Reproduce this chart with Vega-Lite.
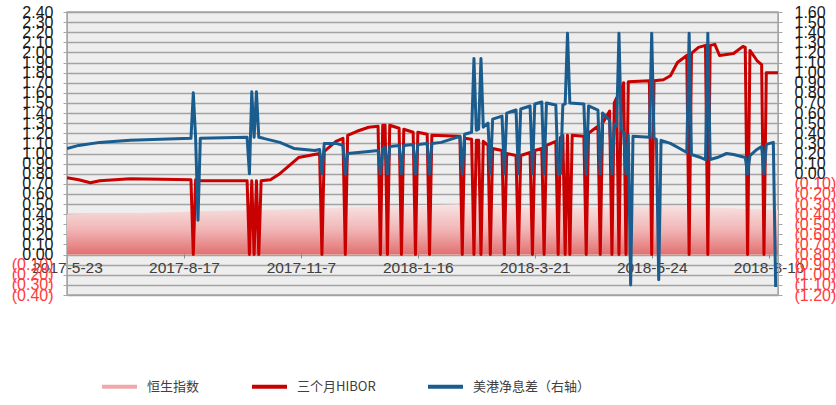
{
  "$schema": "https://vega.github.io/schema/vega-lite/v6.json",
  "width": 711,
  "height": 283,
  "autosize": {"type": "none"},
  "padding": {"left": 67, "top": 12, "right": 58, "bottom": 110},
  "background": "white",
  "config": {
    "view": {"fill": "#eeeeee", "stroke": "#a6a6a6", "strokeWidth": 1.5},
    "font": "Liberation Sans"
  },
  "datasets": {
    "hsi": [
      {"day": 0, "value": 0.40}, {"day": 30, "value": 0.41}, {"day": 60, "value": 0.43},
      {"day": 100, "value": 0.45}, {"day": 150, "value": 0.49}, {"day": 175, "value": 0.50},
      {"day": 200, "value": 0.46}, {"day": 230, "value": 0.47}, {"day": 260, "value": 0.48},
      {"day": 304, "value": 0.44}
    ],
    "hibor": [
      {"day": 0, "value": 0.76}, {"day": 5, "value": 0.74}, {"day": 10, "value": 0.71}, {"day": 14, "value": 0.73},
      {"day": 27, "value": 0.75}, {"day": 53, "value": 0.74}, {"day": 54, "value": 0}, {"day": 55, "value": 0.74},
      {"day": 56, "value": 0.73}, {"day": 77, "value": 0.73}, {"day": 78, "value": 0}, {"day": 79, "value": 0.73},
      {"day": 80, "value": 0}, {"day": 81, "value": 0.73}, {"day": 82, "value": 0}, {"day": 83, "value": 0.73},
      {"day": 87, "value": 0.74}, {"day": 91, "value": 0.80}, {"day": 95, "value": 0.88}, {"day": 99, "value": 0.96},
      {"day": 108, "value": 1.00}, {"day": 109, "value": 0}, {"day": 110, "value": 1.02}, {"day": 115, "value": 1.12},
      {"day": 118, "value": 1.15}, {"day": 119, "value": 0}, {"day": 120, "value": 1.18}, {"day": 124, "value": 1.22},
      {"day": 129, "value": 1.26}, {"day": 133, "value": 1.27}, {"day": 134, "value": 0}, {"day": 135, "value": 1.28},
      {"day": 136, "value": 1.28}, {"day": 137, "value": 0}, {"day": 138, "value": 1.28}, {"day": 142, "value": 1.25},
      {"day": 143, "value": 0}, {"day": 144, "value": 1.24}, {"day": 148, "value": 1.21}, {"day": 149, "value": 0},
      {"day": 150, "value": 1.21}, {"day": 154, "value": 1.19}, {"day": 155, "value": 0}, {"day": 156, "value": 1.18},
      {"day": 168, "value": 1.17}, {"day": 169, "value": 0}, {"day": 170, "value": 1.15}, {"day": 173, "value": 1.14},
      {"day": 174, "value": 0}, {"day": 175, "value": 1.13}, {"day": 176, "value": 1.13}, {"day": 177, "value": 0},
      {"day": 178, "value": 1.12}, {"day": 180, "value": 1.08}, {"day": 181, "value": 0}, {"day": 182, "value": 1.05},
      {"day": 186, "value": 1.03}, {"day": 187, "value": 0}, {"day": 188, "value": 1.00}, {"day": 192, "value": 0.98},
      {"day": 193, "value": 0}, {"day": 194, "value": 0.98}, {"day": 198, "value": 1.01}, {"day": 199, "value": 0},
      {"day": 200, "value": 1.03}, {"day": 203, "value": 1.05}, {"day": 204, "value": 0}, {"day": 205, "value": 1.08},
      {"day": 209, "value": 1.12}, {"day": 210, "value": 0}, {"day": 211, "value": 1.16}, {"day": 212, "value": 1.18},
      {"day": 213, "value": 0}, {"day": 214, "value": 1.18}, {"day": 215, "value": 0}, {"day": 216, "value": 1.18},
      {"day": 221, "value": 1.17}, {"day": 222, "value": 0}, {"day": 223, "value": 1.20}, {"day": 227, "value": 1.27},
      {"day": 228, "value": 0}, {"day": 229, "value": 1.30}, {"day": 232, "value": 1.42}, {"day": 233, "value": 0},
      {"day": 234, "value": 1.50}, {"day": 235, "value": 1.55}, {"day": 236, "value": 0}, {"day": 237, "value": 1.62},
      {"day": 238, "value": 1.70}, {"day": 239, "value": 0}, {"day": 240, "value": 1.71}, {"day": 249, "value": 1.72},
      {"day": 250, "value": 0}, {"day": 251, "value": 1.72}, {"day": 255, "value": 1.73}, {"day": 258, "value": 1.77},
      {"day": 261, "value": 1.90}, {"day": 265, "value": 1.97}, {"day": 266, "value": 0}, {"day": 267, "value": 1.99},
      {"day": 270, "value": 2.05}, {"day": 273, "value": 2.07}, {"day": 274, "value": 0}, {"day": 275, "value": 2.07},
      {"day": 277, "value": 2.08}, {"day": 279, "value": 1.97}, {"day": 285, "value": 1.99}, {"day": 289, "value": 2.06},
      {"day": 290, "value": 2.05}, {"day": 291, "value": 0}, {"day": 292, "value": 2.02}, {"day": 295, "value": 1.92},
      {"day": 297, "value": 1.88}, {"day": 298, "value": 0}, {"day": 299, "value": 1.80}, {"day": 304, "value": 1.80}
    ],
    "spread": [
      {"day": 0, "value": 0.25}, {"day": 5, "value": 0.28}, {"day": 14, "value": 0.31}, {"day": 27, "value": 0.33},
      {"day": 53, "value": 0.35}, {"day": 54, "value": 0.80}, {"day": 55, "value": 0.35}, {"day": 56, "value": -0.46},
      {"day": 57, "value": 0.35}, {"day": 77, "value": 0.36}, {"day": 78, "value": 0}, {"day": 79, "value": 0.81},
      {"day": 80, "value": 0.36}, {"day": 81, "value": 0.81}, {"day": 82, "value": 0.36}, {"day": 84, "value": 0.35},
      {"day": 91, "value": 0.31}, {"day": 97, "value": 0.25}, {"day": 106, "value": 0.23}, {"day": 108, "value": 0.24},
      {"day": 109, "value": 0}, {"day": 110, "value": 0.30}, {"day": 115, "value": 0.30}, {"day": 118, "value": 0.28},
      {"day": 119, "value": 0}, {"day": 120, "value": 0.20}, {"day": 129, "value": 0.22}, {"day": 133, "value": 0.23},
      {"day": 134, "value": 0}, {"day": 135, "value": 0.25}, {"day": 136, "value": 0.26}, {"day": 137, "value": 0},
      {"day": 138, "value": 0.27}, {"day": 142, "value": 0.28}, {"day": 143, "value": 0}, {"day": 144, "value": 0.28},
      {"day": 148, "value": 0.29}, {"day": 149, "value": 0}, {"day": 150, "value": 0.29}, {"day": 154, "value": 0.30},
      {"day": 155, "value": 0}, {"day": 156, "value": 0.30}, {"day": 160, "value": 0.31}, {"day": 168, "value": 0.37},
      {"day": 169, "value": 0}, {"day": 170, "value": 0.39}, {"day": 173, "value": 0.41}, {"day": 174, "value": 1.14},
      {"day": 175, "value": 0.43}, {"day": 176, "value": 0.44}, {"day": 177, "value": 1.14}, {"day": 178, "value": 0.46},
      {"day": 180, "value": 0.50}, {"day": 181, "value": 0}, {"day": 182, "value": 0.54}, {"day": 186, "value": 0.57},
      {"day": 187, "value": 0}, {"day": 188, "value": 0.60}, {"day": 192, "value": 0.63}, {"day": 193, "value": 0},
      {"day": 194, "value": 0.64}, {"day": 198, "value": 0.67}, {"day": 199, "value": 0}, {"day": 200, "value": 0.69},
      {"day": 203, "value": 0.71}, {"day": 204, "value": 0}, {"day": 205, "value": 0.70}, {"day": 209, "value": 0.68},
      {"day": 210, "value": 0}, {"day": 211, "value": 0}, {"day": 212, "value": 0.68}, {"day": 213, "value": 0.69},
      {"day": 214, "value": 1.39}, {"day": 215, "value": 0.70}, {"day": 221, "value": 0.69}, {"day": 222, "value": 0},
      {"day": 223, "value": 0.67}, {"day": 227, "value": 0.63}, {"day": 228, "value": 0}, {"day": 229, "value": 0.60},
      {"day": 232, "value": 0.53}, {"day": 233, "value": 0}, {"day": 234, "value": 0.49}, {"day": 235, "value": 0.47},
      {"day": 236, "value": 1.39}, {"day": 237, "value": 0.44}, {"day": 238, "value": 0.41}, {"day": 239, "value": 0},
      {"day": 240, "value": 0.38}, {"day": 241, "value": -1.10}, {"day": 242, "value": 0.37}, {"day": 249, "value": 0.36},
      {"day": 250, "value": 1.39}, {"day": 251, "value": 0.35}, {"day": 252, "value": 0.34}, {"day": 253, "value": -1.05},
      {"day": 254, "value": 0.33}, {"day": 258, "value": 0.30}, {"day": 262, "value": 0.25}, {"day": 265, "value": 0.21},
      {"day": 266, "value": 1.39}, {"day": 267, "value": 0.19}, {"day": 271, "value": 0.16}, {"day": 273, "value": 0.14},
      {"day": 274, "value": 1.39}, {"day": 275, "value": 0.14}, {"day": 278, "value": 0.16}, {"day": 282, "value": 0.20},
      {"day": 285, "value": 0.19}, {"day": 290, "value": 0.16}, {"day": 291, "value": 0}, {"day": 292, "value": 0.18},
      {"day": 295, "value": 0.24}, {"day": 297, "value": 0.27}, {"day": 298, "value": 0}, {"day": 299, "value": 0.29},
      {"day": 302, "value": 0.31}, {"day": 303, "value": -1.12}
    ]
  },
  "encoding": {
    "x": {
      "field": "day",
      "type": "quantitative",
      "scale": {"domain": [0, 304], "nice": false, "zero": false},
      "axis": {
        "values": [0, 50, 100, 150, 200, 250, 300],
        "labelExpr": "['2017-5-23','2017-8-17','2017-11-7','2018-1-16','2018-3-21','2018-5-24','2018-8-10'][round(datum.value/50)]",
        "offset": -42,
        "grid": false,
        "title": null,
        "labelFontSize": 15.5,
        "labelColor": "#404040",
        "domainColor": "#8c8c8c",
        "tickColor": "#8c8c8c",
        "tickSize": 5,
        "labelPadding": 2,
        "labelFlush": false,
        "labelOverlap": false,
        "labelBound": false
      }
    }
  },
  "layer": [
    {
      "data": {"name": "hsi"},
      "mark": {
        "type": "area",
        "fill": {
          "gradient": "linear", "x1": 0, "y1": 0, "x2": 0, "y2": 1,
          "stops": [
            {"offset": 0, "color": "#f8e4e4"},
            {"offset": 0.5, "color": "#f1b6b6"},
            {"offset": 1, "color": "#e27070"}
          ]
        }
      },
      "encoding": {
        "y": {
          "field": "value",
          "type": "quantitative",
          "scale": {"domain": [-0.4, 2.4], "nice": false, "zero": false},
          "axis": {
            "orient": "left",
            "title": null,
            "values": [-0.4, -0.3, -0.2, -0.1, 0, 0.1, 0.2, 0.3, 0.4, 0.5, 0.6, 0.7, 0.8, 0.9, 1, 1.1, 1.2, 1.3, 1.4, 1.5, 1.6, 1.7, 1.8, 1.9, 2, 2.1, 2.2, 2.3, 2.4],
            "labelExpr": "datum.value < 0 ? '(' + format(-datum.value, '.2f') + ')' : format(datum.value, '.2f')",
            "labelColor": {"condition": {"test": "datum.value < 0", "value": "#ff3b3b"}, "value": "#1a1a1a"},
            "labelFontSize": 16,
            "labelOverlap": false,
            "labelFlush": false,
            "grid": true,
            "gridColor": "#a3a3a3",
            "gridWidth": 1.5,
            "domainColor": "#a6a6a6",
            "tickColor": "#a6a6a6",
            "tickSize": 4,
            "labelPadding": 10
          }
        }
      }
    },
    {
      "data": {"name": "hibor"},
      "mark": {"type": "line", "strokeWidth": 3, "strokeJoin": "round", "clip": true},
      "encoding": {
        "y": {
          "field": "value",
          "type": "quantitative",
          "scale": {"domain": [-0.4, 2.4], "nice": false, "zero": false},
          "axis": null
        },
        "color": {
          "datum": "三个月HIBOR",
          "type": "nominal",
          "scale": {
            "domain": ["恒生指数", "三个月HIBOR", "美港净息差（右轴）"],
            "range": ["#f0a8a8", "#c80000", "#1a5c8e"]
          },
          "legend": {
            "orient": "none",
            "legendX": 33,
            "legendY": 355,
            "direction": "horizontal",
            "title": null,
            "symbolType": "stroke",
            "symbolSize": 1225,
            "symbolStrokeWidth": 4,
            "labelFont": "Noto Sans CJK SC",
            "labelFontSize": 13,
            "labelColor": "#404040",
            "labelOffset": 8,
            "columnPadding": 44,
            "labelLimit": 300
          }
        }
      }
    },
    {
      "data": {"name": "spread"},
      "mark": {"type": "line", "strokeWidth": 3, "strokeJoin": "round", "clip": true},
      "encoding": {
        "y": {
          "field": "value",
          "type": "quantitative",
          "scale": {"domain": [-1.2, 1.6], "nice": false, "zero": false},
          "axis": {
            "orient": "right",
            "title": null,
            "values": [-1.2, -1.1, -1, -0.9, -0.8, -0.7, -0.6, -0.5, -0.4, -0.3, -0.2, -0.1, 0, 0.1, 0.2, 0.3, 0.4, 0.5, 0.6, 0.7, 0.8, 0.9, 1, 1.1, 1.2, 1.3, 1.4, 1.5, 1.6],
            "labelExpr": "datum.value < 0 ? '(' + format(-datum.value, '.2f') + ')' : format(datum.value, '.2f')",
            "labelColor": {"condition": {"test": "datum.value < 0", "value": "#ff3b3b"}, "value": "#1a1a1a"},
            "labelFontSize": 16,
            "labelOverlap": false,
            "labelFlush": false,
            "grid": false,
            "domainColor": "#a6a6a6",
            "tickColor": "#a6a6a6",
            "tickSize": 4,
            "labelPadding": 12
          }
        },
        "color": {"datum": "美港净息差（右轴）", "type": "nominal"}
      }
    }
  ],
  "resolve": {"scale": {"y": "independent"}}
}
